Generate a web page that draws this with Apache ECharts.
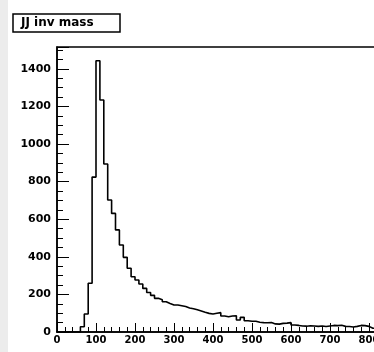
<!DOCTYPE html>
<html><head><meta charset="utf-8">
<script src="https://cdn.jsdelivr.net/npm/echarts@6/dist/echarts.min.js"></script>
<style>html,body{margin:0;padding:0;background:#fff}#c{width:374px;height:352px}</style>
</head><body><div id="c"></div>
<script>
const titleText = 'JJ inv mass';
const binStart = 0;
const binWidth = 10;
const counts = [
  0, 0, 0, 0, 0, 0, 28, 96, 259, 824,
  1443, 1234, 894, 702, 631, 543, 463, 397, 339, 294,
  277, 255, 232, 210, 195, 179, 172, 161, 152, 144,
  144, 140, 136, 128, 124, 118, 112, 105, 99, 96,
  100, 103, 85, 81, 85, 86, 64, 78, 60, 57,
  57, 52, 50, 49, 50, 43, 42, 46, 47, 50,
  37, 35, 32, 31, 33, 32, 30, 32, 29, 32,
  35, 34, 36, 30, 29, 27, 30, 35, 34, 30,
  20, 21, 18
];
const xTickLabels = ['0', '100', '200', '300', '400', '500', '600', '700', '800', '900', '1000'];
const yTickLabels = ['0', '200', '400', '600', '800', '1000', '1200', '1400'];

const pts = [];
for (let i = 0; i < counts.length; i++) {
  const x0 = binStart + i * binWidth;
  pts.push([x0, counts[i]]);
  pts.push([x0 + binWidth, counts[i]]);
}

const labelFont = { color: '#000', fontFamily: 'DejaVu Sans', fontWeight: 'bold' };
const chart = echarts.init(document.getElementById('c'), null, { renderer: 'canvas' });
chart.setOption({
  animation: false,
  backgroundColor: '#fff',
  grid: { left: 57, top: 47, right: -73, bottom: 20, outerBoundsMode: 'none', containLabel: false, show: true, borderColor: '#000', borderWidth: 1.5, backgroundColor: 'transparent' },
  xAxis: {
    type: 'value', min: 0, max: 1000, interval: 100,
    axisLine: { show: true, lineStyle: { color: '#000', width: 1.5 } },
    axisTick: { show: true, inside: true, length: 9, lineStyle: { color: '#000', width: 1 } },
    minorTick: { show: true, splitNumber: 5, length: 5, lineStyle: { color: '#000', width: 1 } },
    splitLine: { show: false },
    axisLabel: Object.assign({ fontSize: 10, margin: 3, formatter: v => xTickLabels.includes(String(v)) ? String(v) : '' }, labelFont)
  },
  yAxis: {
    type: 'value', min: 0, max: 1516, interval: 200,
    axisLine: { show: true, lineStyle: { color: '#000', width: 1.5 } },
    axisTick: { show: true, inside: true, length: 12, lineStyle: { color: '#000', width: 1 } },
    minorTick: { show: true, splitNumber: 4, length: 6, lineStyle: { color: '#000', width: 1 } },
    splitLine: { show: false },
    axisLabel: Object.assign({ fontSize: 11, margin: 6, formatter: v => yTickLabels.includes(String(v)) ? String(v) : '' }, labelFont)
  },
  series: [{
    type: 'line', data: pts, showSymbol: false, symbol: 'none',
    lineStyle: { color: '#000', width: 1.6 }, clip: true
  }],
  graphic: [
    { type: 'rect', left: 0, top: 0, shape: { width: 8, height: 352 }, style: { fill: '#ececec' }, z: 0 },
    { type: 'rect', shape: { x: 13, y: 14, width: 107, height: 18 }, style: { fill: '#fff', stroke: '#000', lineWidth: 1.5 }, z: 10 },
    { type: 'text', x: 21, y: 23, style: { text: titleText, fill: '#000', font: 'bold 12px "DejaVu Sans"', verticalAlign: 'middle' }, z: 11 }
  ]
});
</script>
</body></html>
